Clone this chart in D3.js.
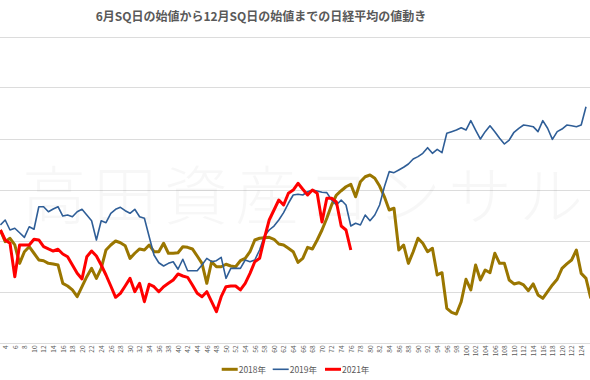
<!DOCTYPE html>
<html><head><meta charset="utf-8">
<script src="https://cdn.jsdelivr.net/npm/d3@7/dist/d3.min.js"></script>
<style>body{margin:0;background:#fff}svg{display:block}</style>
</head><body>
<svg id="chart" width="590" height="380"></svg>
<script>
const title = "6月SQ日の始値から12月SQ日の始値までの日経平均の値動き";
const watermark = "高田資産コンサル";
const seriesNames = ["2018年", "2019年", "2021年"];
const seriesColors = ["#9A7600", "#2F5E97", "#FF0000"];
const seriesWidths = [3, 1.6, 3];

// trading-day number (x categories)
const days = d3.range(3, 127);
const tickDays = [4,6,8,10,12,14,16,18,20,22,24,26,28,30,32,34,36,38,40,42,44,46,48,50,52,54,56,58,60,
  62,64,66,68,70,72,74,76,78,80,82,84,86,88,90,92,94,96,98,100,102,104,106,108,110,112,114,116,118,120,122,124];
const yTicks = [-10, -5, 0, 5, 10, 15, 20];

// change (%) vs base, per trading day
const s2018 = [
  1.03, -0.12, 0.22, -0.44, -2.24, -1.10, -0.61, -1.25, -1.91, -1.98,
  -2.24, -2.30, -2.40, -4.20, -4.46, -4.85, -5.51, -4.53, -3.55, -2.73,
  -3.71, -2.73, -0.93, -0.44, -0.05, -0.22, -0.51, -1.75, -1.25, -0.83,
  -0.93, -0.44, -1.10, -1.10, -0.27, -1.25, -1.25, -1.20, -0.61, -0.67,
  -0.83, -1.52, -2.24, -4.20, -2.08, -2.57, -2.57, -2.33, -2.50, -2.57,
  -1.98, -1.75, -1.10, 0.05, 0.22, 0.27, 0.31, 0.12, -0.34, -0.44,
  -0.76, -1.10, -2.14, -1.75, -0.67, -0.83, 0.05, 1.03, 2.18, 3.48,
  4.46, 4.88, 5.27, 5.51, 4.29, 5.76, 6.25, 6.42, 6.10, 5.34,
  4.29, 2.99, 3.16, -0.93, -0.44, -2.24, -1.10, 0.22, -0.27, -1.10,
  -0.76, -3.38, -3.16, -6.65, -7.04, -7.21, -6.00, -3.80, -4.85, -2.40,
  -3.87, -2.89, -3.16, -1.25, -2.24, -2.24, -3.87, -4.26, -4.14, -4.36,
  -4.92, -4.26, -5.34, -5.67, -5.02, -4.36, -3.80, -2.73, -2.30, -1.91,
  -0.93, -3.22, -3.71, -5.67
];
const s2019 = [
  1.52, 2.01, 1.03, 1.20, 0.76, 0.31, 1.35, 1.10, 3.31, 3.31,
  2.82, 3.09, 3.31, 2.40, 2.50, 2.33, 2.82, 3.06, 2.50, 1.94,
  0.05, 1.94, 1.75, 2.67, 3.06, 3.25, 2.92, 2.67, 3.06, 2.33,
  2.18, 0.37, -1.42, -2.18, -2.50, -2.24, -2.08, -2.82, -1.84, -2.96,
  -2.96, -2.96, -2.40, -1.75, -2.08, -1.98, -1.65, -3.71, -2.73, -2.73,
  -2.73, -1.91, -2.08, -1.91, -0.93, 0.44, 1.03, 1.42, 2.01, 2.73,
  3.65, 4.46, 4.53, 4.46, 4.78, 4.95, 4.85, 4.73, 4.69, 3.97,
  3.48, 3.97, 3.48, 1.42, 1.69, 1.52, 2.50, 1.94, 2.50, 3.48,
  5.27, 6.75, 6.65, 6.91, 7.18, 7.50, 7.99, 8.22, 8.55, 9.10,
  8.55, 8.94, 8.61, 10.51, 10.67, 10.83, 11.06, 10.83, 11.75, 10.83,
  9.95, 10.67, 11.25, 10.67, 10.02, 9.46, 9.85, 10.61, 11.00, 11.32,
  11.25, 11.16, 10.67, 11.75, 11.00, 9.92, 10.67, 10.93, 11.32, 11.25,
  11.16, 11.32, 13.12
];
const s2021 = [
  1.03, 0.05, -0.27, -3.55, -0.44, -0.44, -0.44, 0.12, 0.05, -0.61,
  -0.83, -1.03, -0.86, -1.32, -1.59, -2.40, -3.22, -3.77, -1.59, -1.03,
  -1.52, -2.40, -3.38, -4.46, -5.57, -5.18, -4.46, -3.71, -5.02, -4.20,
  -6.00, -4.29, -4.53, -5.02, -4.53, -4.20, -3.87, -3.28, -3.48, -3.61,
  -4.36, -5.18, -5.51, -5.02, -6.00, -6.98, -5.51, -4.53, -4.46, -4.46,
  -4.85, -4.20, -3.22, -2.08, -1.75, 0.22, 2.01, 2.99, 3.97, 3.48,
  4.63, 4.95, 5.61, 5.02, 4.46, 4.95, 4.63, 1.81, 4.14, 4.14,
  3.78, 1.42, 1.03, -0.93
];
const allSeries = [s2018, s2019, s2021];

const W = 590, H = 380;
const font = "'Noto Sans CJK JP', 'Noto Sans', sans-serif";
const svg = d3.select("#chart");
svg.append("rect").attr("width", W).attr("height", H).attr("fill", "#fff");

const x = d3.scaleLinear().domain([3, 126]).range([0.4, 590.8]);
const y = d3.scaleLinear().domain([-10, 20]).range([342.5, 36.5]);

// title
svg.append("text").attr("x", 261).attr("y", 20.5).attr("text-anchor", "middle")
  .attr("font-family", font).attr("font-size", 12).attr("font-weight", "bold")
  .attr("fill", "#595959").text(title);

// gridlines
svg.append("g").selectAll("line").data(yTicks).join("line")
  .attr("x1", 0).attr("x2", W)
  .attr("y1", d => Math.round(y(d)) + 0.5).attr("y2", d => Math.round(y(d)) + 0.5)
  .attr("stroke", "#dcdcdc").attr("stroke-width", 1);

// watermark
svg.append("text").attr("x", 22).attr("y", 219)
  .attr("font-family", font).attr("font-size", 64).attr("letter-spacing", 7)
  .attr("font-weight", 300)
  .attr("fill", "#000").attr("fill-opacity", 0.03).text(watermark);

// x axis
const xAxis = d3.axisBottom(x).tickValues(tickDays).tickSize(0).tickFormat(d3.format("d"));
const gx = svg.append("g").attr("transform", "translate(0,342.5)").call(xAxis);
gx.select(".domain").remove();
gx.selectAll("text")
  .attr("transform", "rotate(-90)")
  .attr("x", -3).attr("y", 0).attr("dy", "0.35em")
  .attr("text-anchor", "end")
  .attr("font-family", font).attr("font-size", 6.5).attr("fill", "#595959");

// lines
svg.append("clipPath").attr("id", "clip").append("rect")
  .attr("x", 0).attr("y", 30).attr("width", W).attr("height", 320);
const line = d3.line().x((d, i) => x(days[i])).y(d => y(d));
const gl = svg.append("g").attr("clip-path", "url(#clip)");
allSeries.forEach((s, k) => {
  gl.append("path").datum(s).attr("d", line)
    .attr("fill", "none").attr("stroke", seriesColors[k])
    .attr("stroke-width", seriesWidths[k]).attr("stroke-linejoin", "round");
});

// legend
const legendX = [221.7, 272.7, 325];
const lg = svg.append("g");
seriesNames.forEach((n, k) => {
  lg.append("line").attr("x1", legendX[k]).attr("x2", legendX[k] + 16)
    .attr("y1", 369.3).attr("y2", 369.3)
    .attr("stroke", seriesColors[k]).attr("stroke-width", seriesWidths[k]);
  lg.append("text").attr("x", legendX[k] + 17).attr("y", 372.5)
    .attr("font-family", font).attr("font-size", 8.5).attr("fill", "#595959").text(n);
});
</script>
</body></html>
